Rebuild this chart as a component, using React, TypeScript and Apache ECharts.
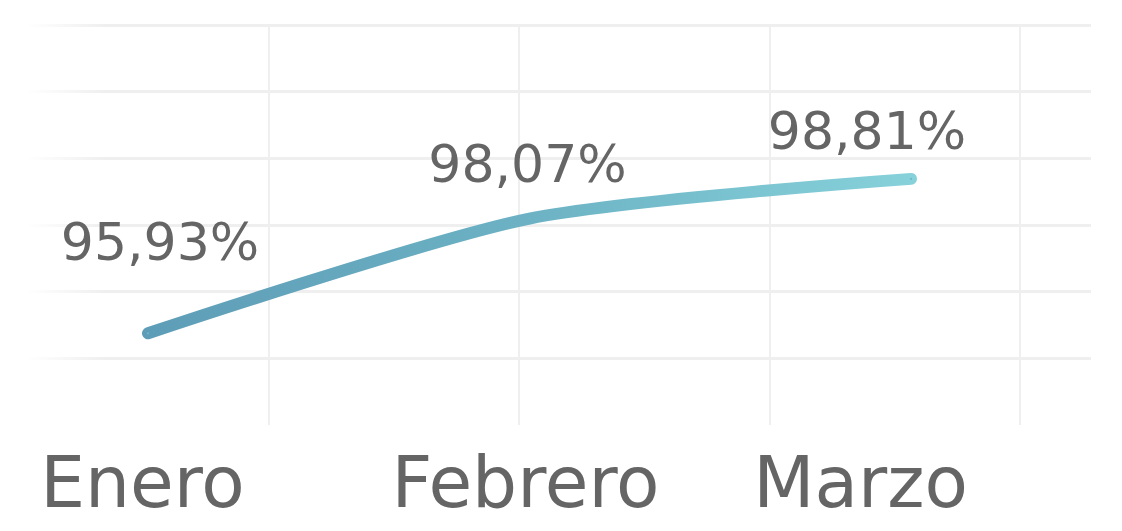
import React, { useEffect, useRef } from "react";
import * as echarts from "echarts";

const categories = ["Enero", "Febrero", "Marzo"];
const values = [95.93, 98.07, 98.81];
const valueLabels = ["95,93%", "98,07%", "98,81%"];

// styling only (label placement relative to each point, in px)
const labelOffsets = [
  [12, -91],
  [-2, -55],
  [-44, -48],
];
const categoryLabelPadRight = [11, 8, 101];

const FONT = "DejaVu Sans";
const TEXT = "#656565";
const GRID_LINE = "#efefef";

export default function App() {
  const ref = useRef<HTMLDivElement>(null);

  useEffect(() => {
    if (!ref.current) return;
    const chart = echarts.init(ref.current, null, { renderer: "svg" });

    const rich: Record<string, any> = {};
    categories.forEach((_, i) => {
      rich["c" + i] = {
        fontFamily: FONT,
        fontSize: 71,
        color: TEXT,
        padding: [0, categoryLabelPadRight[i], 0, 0],
      };
    });

    const hFade = new echarts.graphic.LinearGradient(
      26,
      0,
      105,
      0,
      [
        { offset: 0, color: "rgba(239,239,239,0)" },
        { offset: 1, color: GRID_LINE },
      ],
      true
    );

    chart.setOption({
      animation: false,
      backgroundColor: "#ffffff",
      grid: [
        { left: 148, right: 211, top: 25, bottom: 106 },
        { left: 18, right: 31, top: 25, bottom: 106 },
      ],
      xAxis: [
        {
          type: "category",
          gridIndex: 0,
          data: categories,
          boundaryGap: false,
          axisLine: { show: false },
          axisTick: { show: false },
          splitLine: { show: false },
          axisLabel: {
            margin: 22,
            formatter: (v: string, i: number) => `{c${i}|${v}}`,
            rich,
          },
        },
        {
          type: "value",
          gridIndex: 1,
          min: 0,
          max: 4.2834,
          interval: 1,
          axisLine: { show: false },
          axisTick: { show: false },
          axisLabel: { show: false },
          splitLine: {
            show: true,
            showMinLine: false,
            showMaxLine: false,
            lineStyle: { color: GRID_LINE, width: 2 },
          },
        },
      ],
      yAxis: [
        {
          type: "value",
          gridIndex: 0,
          min: 94.22,
          max: 101.68,
          axisLine: { show: false },
          axisTick: { show: false },
          axisLabel: { show: false },
          splitLine: { show: false },
        },
        {
          type: "value",
          gridIndex: 1,
          min: 0,
          max: 6,
          interval: 1,
          axisLine: { show: false },
          axisTick: { show: false },
          axisLabel: { show: false },
          splitLine: {
            show: true,
            showMinLine: false,
            lineStyle: { color: hFade, width: 3 },
          },
        },
      ],
      series: [
        {
          type: "line",
          xAxisIndex: 0,
          yAxisIndex: 0,
          smooth: 0.25,
          symbol: "circle",
          symbolSize: 2,
          showSymbol: true,
          itemStyle: { color: "#6fb6c8" },
          lineStyle: {
            width: 12,
            cap: "round",
            join: "round",
            color: new echarts.graphic.LinearGradient(0, 0, 1, 0, [
              { offset: 0, color: "#5e9db7" },
              { offset: 0.5, color: "#6cb2c4" },
              { offset: 1, color: "#86d1da" },
            ]),
          },
          data: values.map((v, i) => ({
            value: v,
            label: {
              show: true,
              position: "inside",
              align: "center",
              verticalAlign: "middle",
              offset: labelOffsets[i],
              formatter: () => valueLabels[i],
              fontFamily: FONT,
              fontSize: 52,
              color: TEXT,
            },
          })),
          z: 5,
        },
      ],
    });

    return () => chart.dispose();
  }, []);

  return (
    <div
      ref={ref}
      style={{ position: "absolute", left: 0, top: 0, width: 1122, height: 531 }}
    />
  );
}
